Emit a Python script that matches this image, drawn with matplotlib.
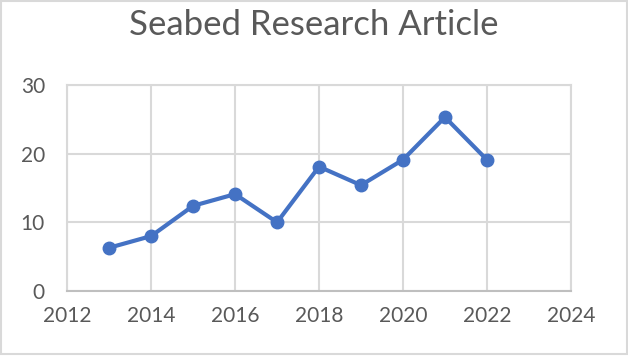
import numpy as np
import matplotlib.pyplot as plt

years = [2013, 2014, 2015, 2016, 2017, 2018, 2019, 2020, 2021, 2022]
articles = [6.3, 8.0, 12.4, 14.1, 10.0, 18.1, 15.4, 19.1, 25.3, 19.1]

xticks = [2012, 2014, 2016, 2018, 2020, 2022, 2024]
yticks = [0, 10, 20, 30]

plt.rcParams['font.family'] = ['Lato', 'DejaVu Sans']

fig = plt.figure(figsize=(6.28, 3.58), dpi=100)
ax = fig.add_axes([0.107, 0.187, 0.802, 0.576])

ax.plot(years, articles, color="#4472C4", linewidth=3, marker="o",
        markersize=9, zorder=3)

ax.set_xlim(2012, 2024)
ax.set_ylim(0, 30)
ax.set_xticks(xticks)
ax.set_yticks(yticks)
ax.grid(True, color="#D9D9D9", linewidth=1.5)
for side in ["top", "right", "left"]:
    ax.spines[side].set_color("#D9D9D9")
    ax.spines[side].set_linewidth(1.5)
ax.spines["bottom"].set_color("#BFBFBF")
ax.spines["bottom"].set_linewidth(1.5)
ax.tick_params(length=0, labelsize=15, labelcolor="#595959")
ax.tick_params(axis="y", pad=16)
ax.tick_params(axis="x", pad=11)

fig.text(0.5, 0.93, "Seabed Research Article", fontsize=25, color="#595959",
         ha="center", va="center")

border = plt.Rectangle((0.002, 0.01), 0.996, 0.988, transform=fig.transFigure,
                       fill=False, edgecolor="#D9D9D9", linewidth=1.5)
fig.patches.append(border)

fig.savefig("out.png", dpi=100)
